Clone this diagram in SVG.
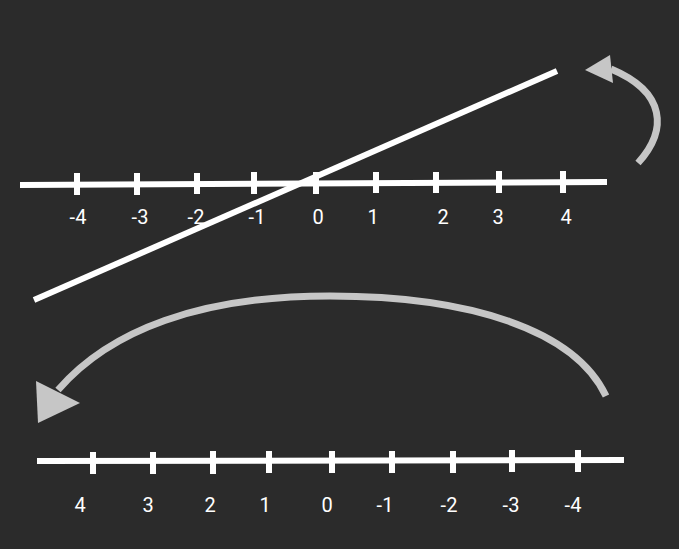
<svg xmlns="http://www.w3.org/2000/svg" width="679" height="549" viewBox="0 0 679 549">
<style>
.ln{stroke:#ffffff;stroke-width:6;fill:none}
.tk{stroke:#ffffff;stroke-width:6}
.arc{stroke:#c6c6c6;stroke-width:7;fill:none}
.head{fill:#c6c6c6}
text{font-family:Roboto,"Liberation Sans",sans-serif;font-size:20px;fill:#ffffff;text-anchor:middle}
</style>
<rect width="679" height="549" fill="#2b2b2b"/>
<g id="top-number-line">
<line class="ln" x1="20" y1="185" x2="607" y2="182"/>
<g class="ticks">
<line class="tk" x1="77" y1="173" x2="77" y2="195"/>
<line class="tk" x1="137" y1="173" x2="137" y2="195"/>
<line class="tk" x1="197" y1="173" x2="197" y2="194"/>
<line class="tk" x1="254" y1="172" x2="254" y2="194"/>
<line class="tk" x1="316" y1="172" x2="316" y2="194"/>
<line class="tk" x1="376" y1="172" x2="376" y2="193"/>
<line class="tk" x1="436" y1="172" x2="436" y2="193"/>
<line class="tk" x1="499" y1="171" x2="499" y2="193"/>
<line class="tk" x1="563" y1="171" x2="563" y2="193"/>
</g>
<text x="78" y="224">-4</text>
<text x="140" y="224">-3</text>
<text x="196" y="224">-2</text>
<text x="257" y="224">-1</text>
<text x="318" y="224">0</text>
<text x="373" y="224">1</text>
<text x="443" y="224">2</text>
<text x="498" y="224">3</text>
<text x="566" y="224">4</text>
</g>
<g id="diagonal-line">
<line class="ln" x1="34" y1="300" x2="557" y2="71"/>
</g>
<g id="bottom-number-line">
<line class="ln" x1="37" y1="461" x2="624" y2="460"/>
<g class="ticks">
<line class="tk" x1="93" y1="452" x2="93" y2="474"/>
<line class="tk" x1="153" y1="452" x2="153" y2="474"/>
<line class="tk" x1="213" y1="451" x2="213" y2="474"/>
<line class="tk" x1="269" y1="451" x2="269" y2="473"/>
<line class="tk" x1="332" y1="451" x2="332" y2="473"/>
<line class="tk" x1="392" y1="451" x2="392" y2="473"/>
<line class="tk" x1="453" y1="451" x2="453" y2="473"/>
<line class="tk" x1="512" y1="450" x2="512" y2="472"/>
<line class="tk" x1="578" y1="450" x2="578" y2="472"/>
</g>
<text x="80" y="512">4</text>
<text x="148" y="512">3</text>
<text x="210" y="512">2</text>
<text x="265" y="512">1</text>
<text x="327" y="512">0</text>
<text x="385" y="512">-1</text>
<text x="449" y="512">-2</text>
<text x="511" y="512">-3</text>
<text x="573" y="512">-4</text>
</g>
<g id="connectors">
<path class="arc" d="M638,163 C668,130 666,92 611,69"/>
<polygon class="head" points="585,70 610,55 613,83"/>
<path class="arc" d="M606,396 C575,330 470,296 330,296 C200,296 110,330 58,390"/>
<polygon class="head" points="38,423 36,381 80,403"/>
</g>
</svg>
